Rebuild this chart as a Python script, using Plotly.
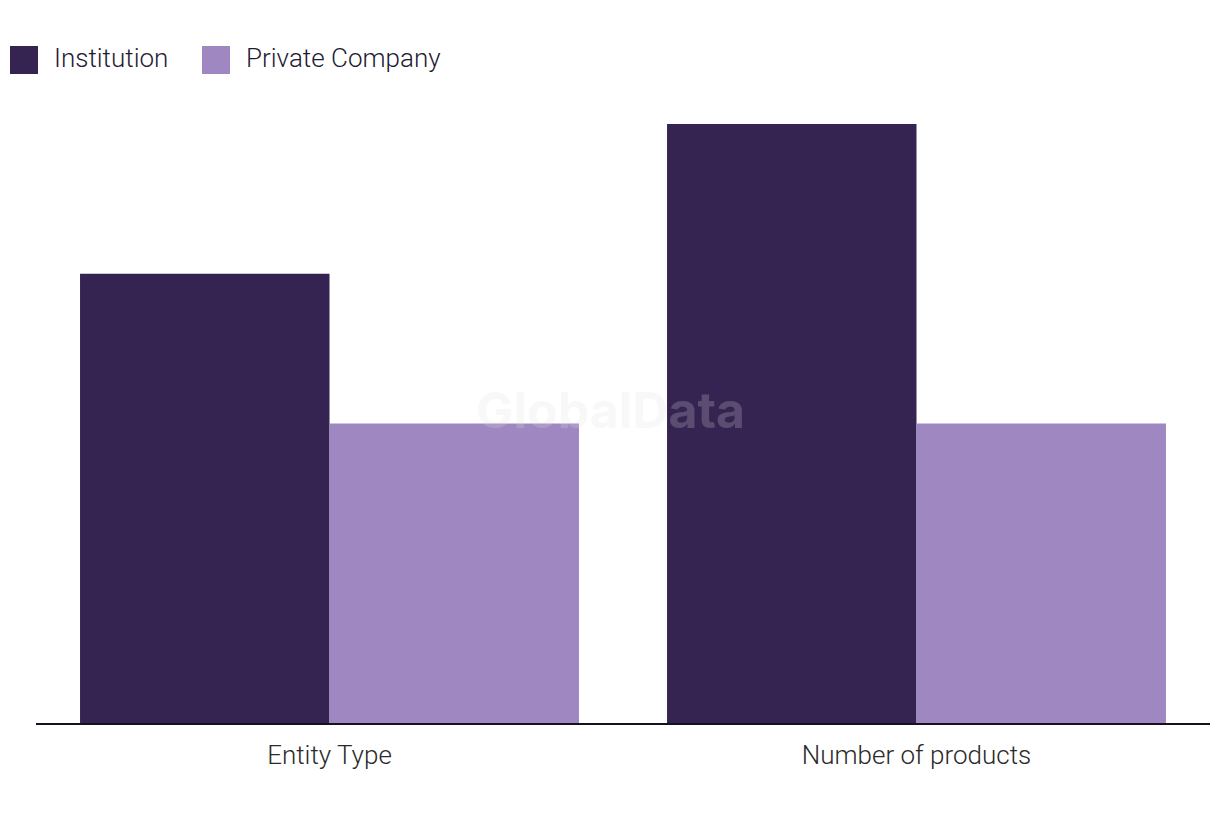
import plotly.graph_objects as go

categories = ["Entity Type", "Number of products"]
series_names = ["Institution", "Private Company"]
institution = [3, 4]
private_company = [2, 2]
colors = ["#352452", "#9f88c1"]

fig = go.Figure()
for name, vals, col in zip(series_names, [institution, private_company], colors):
    fig.add_trace(go.Bar(x=categories, y=vals, name=name, marker_color=col,
                         marker_line_width=0, showlegend=False))

font_family = "Roboto, 'Noto Sans', sans-serif"
text_color = "#1f1b33"

fig.update_layout(
    width=1220, height=820,
    margin=dict(l=28, r=18, t=116, b=105),
    paper_bgcolor="white", plot_bgcolor="white",
    barmode="group", bargap=0.15, bargroupgap=0,
    font=dict(family=font_family, size=26, color=text_color, weight=300),
    xaxis=dict(showline=True, linecolor="#15121f", linewidth=2, ticks="",
               showgrid=False, tickfont=dict(size=26, color="#2a2a2a", weight=300),
               ticklabelstandoff=8),
    yaxis=dict(visible=False, range=[0, 4], showgrid=False),
)

# custom legend
legend_x = [10, 202]
for i, (name, col) in enumerate(zip(series_names, colors)):
    x0 = legend_x[i]
    fig.add_shape(type="rect", xref="paper", yref="paper",
                  x0=(x0 - 36) / 1174, x1=(x0 + 28 - 36) / 1174,
                  y0=(723 - 74) / 599, y1=(723 - 46) / 599,
                  fillcolor=col, line_width=0)
    fig.add_annotation(text=name, xref="paper", yref="paper",
                       x=(x0 + 42 - 36) / 1174, y=(723 - 58) / 599,
                       xanchor="left", yanchor="middle", showarrow=False,
                       font=dict(size=26, color=text_color, family=font_family, weight=300))

fig.add_annotation(text="<b>GlobalData</b>", xref="paper", yref="paper",
                   x=(610 - 36) / 1174, y=(723 - 410) / 599, showarrow=False,
                   font=dict(size=50, color="rgba(225,225,225,0.22)", family="Inter, Roboto, sans-serif"))

fig.write_html("out.html")
